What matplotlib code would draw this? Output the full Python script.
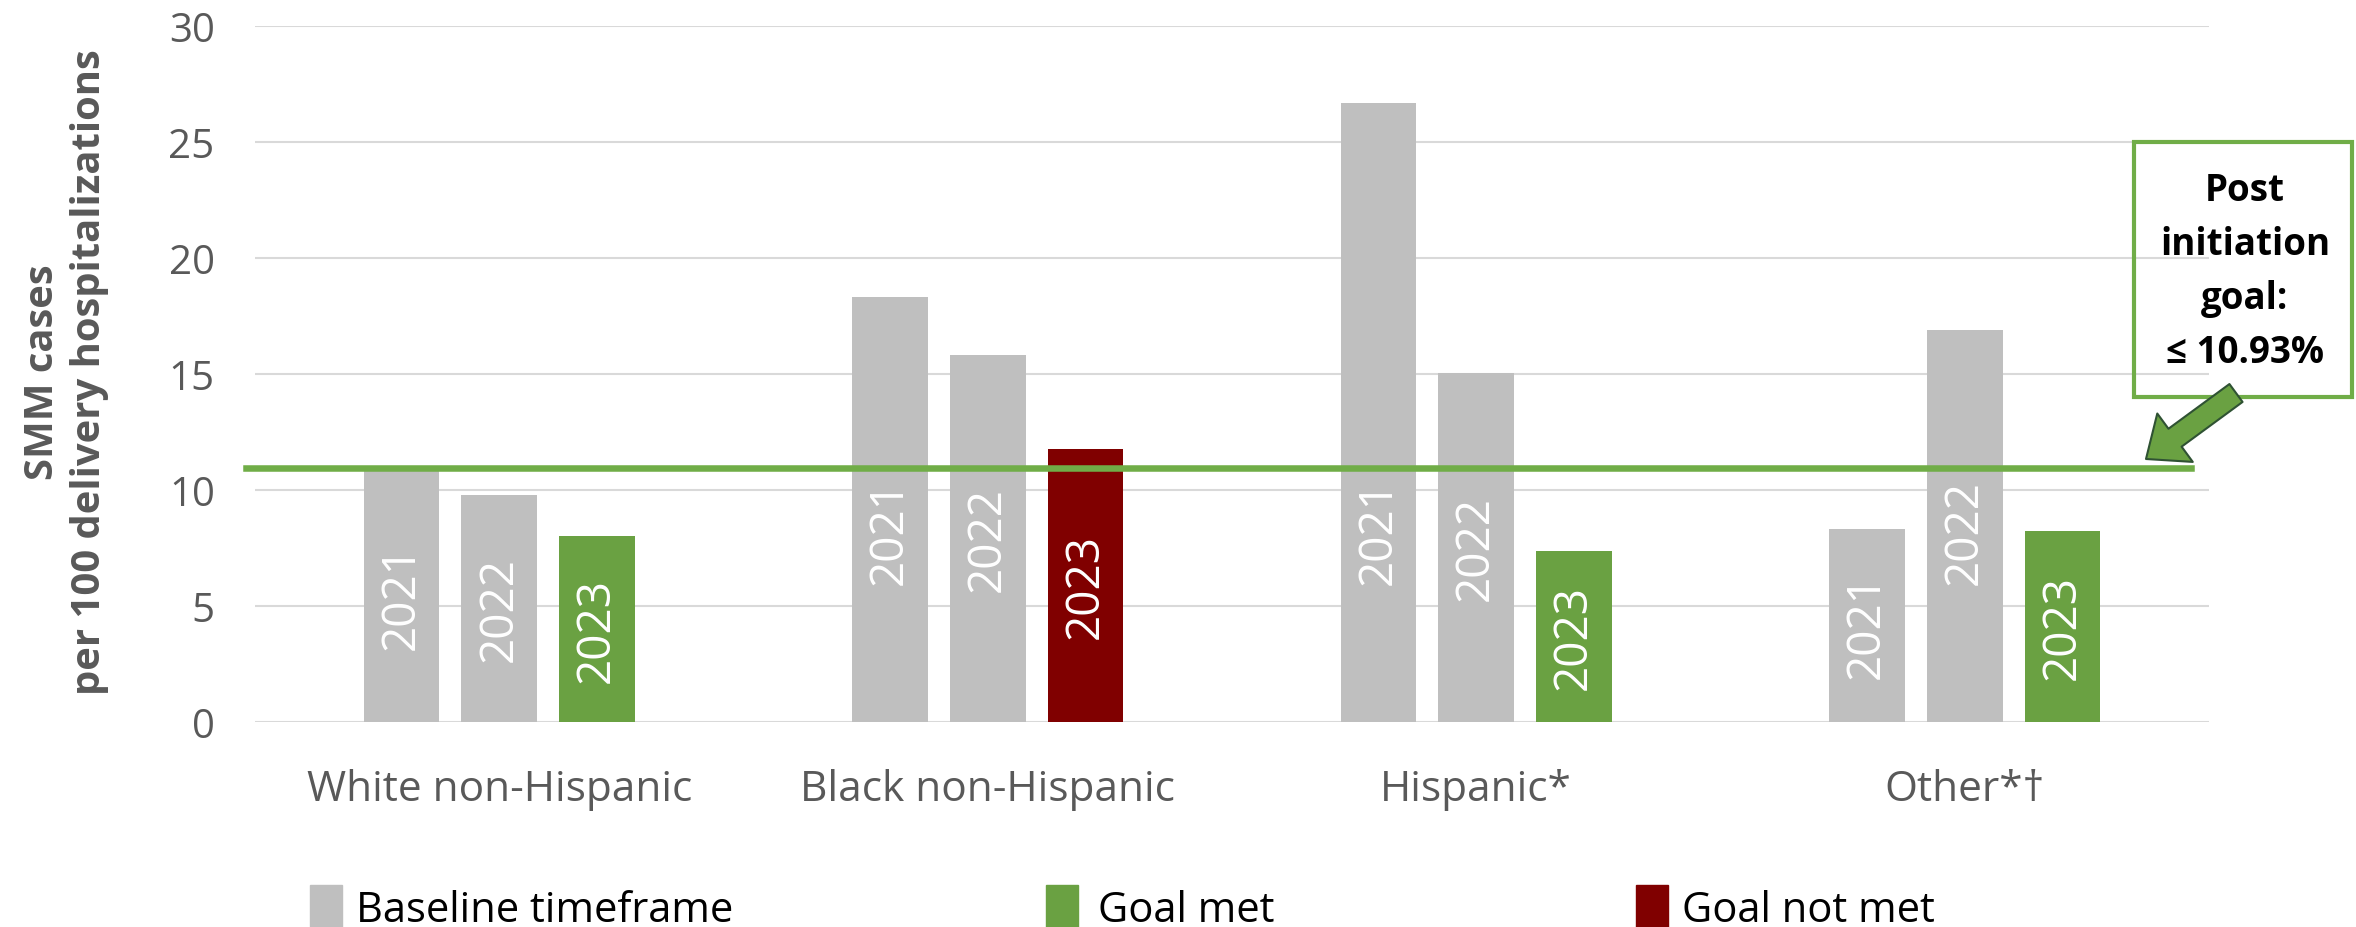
import numpy as np
import matplotlib.pyplot as plt
import matplotlib.patches as mpatches

plt.rcParams['font.family'] = ['Open Sans', 'DejaVu Sans']

groups = ['White non-Hispanic', 'Black non-Hispanic', 'Hispanic*', 'Other*\u2020']
years = ['2021', '2022', '2023']
rate_2021 = [10.8, 18.3, 26.7, 8.3]
rate_2022 = [9.8, 15.8, 15.05, 16.9]
rate_2023 = [8.0, 11.75, 7.35, 8.25]
goal = 10.93
legend_labels = ['Baseline timeframe', 'Goal met', 'Goal not met']

GRAY = '#BFBFBF'
GREEN = '#6AA142'
RED = '#800000'
TXT = '#595959'

W, H = 2356, 928
fig = plt.figure(figsize=(W / 100, H / 100), dpi=100)
ax = fig.add_axes([255 / W, 1 - 723 / H, 1954 / W, 696 / H])

x = np.arange(len(groups))
offsets = [-0.2, 0.0, 0.2]
colors_2023 = [GREEN if v <= goal else RED for v in rate_2023]
series = [(rate_2021, [GRAY] * 4), (rate_2022, [GRAY] * 4), (rate_2023, colors_2023)]

for yr, off, (vals, cols) in zip(years, offsets, series):
    ax.bar(x + off, vals, width=0.155, color=cols, zorder=2)
    for xi, v in zip(x + off, vals):
        ax.text(xi, min(v / 2, 8.2), yr, rotation=90, ha='center', va='center',
                color='white', fontsize=33, zorder=3)

# goal line
ax.plot([-0.518, 3.463], [goal, goal], color='#70AD47', lw=4.7, clip_on=False, zorder=4)

ax.set_xlim(-0.5, 3.5)
ax.set_ylim(0, 30)
ax.set_yticks(range(0, 31, 5))
ax.yaxis.grid(True, color='#D9D9D9', lw=1.5, zorder=0)
ax.set_axisbelow(True)
for s in ax.spines.values():
    s.set_visible(False)
ax.set_xticks(x, groups)
ax.tick_params(length=0, labelcolor=TXT)
ax.tick_params(axis='y', pad=29, labelsize=29)
ax.tick_params(axis='x', pad=33, labelsize=30.5)
for t in ax.get_yticklabels():
    t.set_clip_on(False)

fig.text(66 / W, 1 - 372 / H, 'SMM cases\nper 100 delivery hospitalizations',
         rotation=90, ha='center', va='center', multialignment='center',
         fontsize=28.8, fontweight='bold', color=TXT, linespacing=1.25)

# annotation box + arrow
fig.add_artist(mpatches.Rectangle((2134 / W, 1 - 398 / H), 218 / W, 255 / H,
                                  transform=fig.transFigure, fill=False,
                                  edgecolor='#70AD47', lw=3))
fig.text(2245 / W, 1 - 272 / H, f'Post\ninitiation\ngoal:\n\u2264 {goal:.2f}%',
         ha='center', va='center', fontsize=26.5, fontweight='bold', color='black',
         linespacing=1.55)
arrow = mpatches.FancyArrowPatch((2236 / W, 1 - 394 / H), (2146 / W, 1 - 460 / H),
                                 transform=fig.transFigure, shrinkA=0, shrinkB=0,
                                 arrowstyle='simple,head_length=0.6,head_width=1.0,tail_width=0.37',
                                 mutation_scale=43.2, fc='#6AA142', ec='#2F5233', lw=1.5)
fig.add_artist(arrow)

# legend
for lab, col, xs, xt in zip(legend_labels, [GRAY, GREEN, RED], [310, 1046, 1636], [356, 1098, 1682]):
    fig.add_artist(mpatches.Rectangle((xs / W, 1 - 932 / H), 32 / W, 46 / H,
                                      transform=fig.transFigure, color=col))
    fig.text(xt / W, 1 - 922 / H, lab, va='baseline', ha='left', fontsize=30, color='black')

fig.savefig('out.png', dpi=100)
